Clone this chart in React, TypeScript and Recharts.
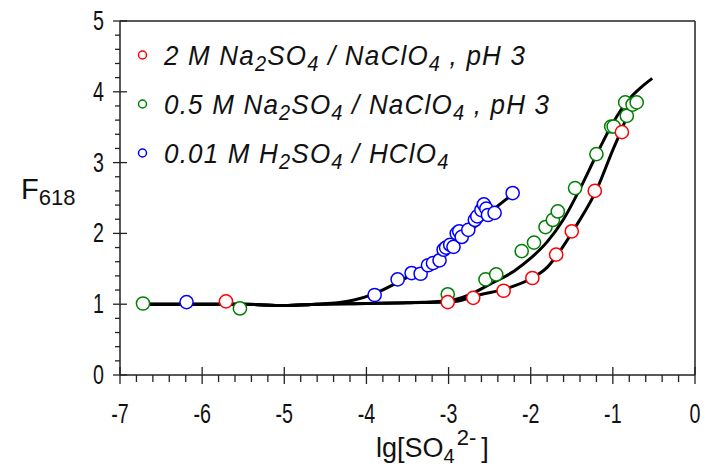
import React from "react";
import {
  ComposedChart,
  Line,
  Scatter,
  XAxis,
  YAxis,
  ReferenceLine,
} from "recharts";

const xMajorTicks = [-7, -6, -5, -4, -3, -2, -1, 0];
const yMajorTicks = [0, 1, 2, 3, 4, 5];

// minor ticks every 0.2
const minorOf = (majors: number[]) => {
  const out: number[] = [];
  majors.forEach((m, i) => {
    out.push(m);
    if (i < majors.length - 1) {
      for (let k = 1; k < 5; k++) out.push(Math.round((m + k * 0.2) * 10) / 10);
    }
  });
  return out;
};
const xTicks = minorOf(xMajorTicks);
const yTicks = minorOf(yMajorTicks);

// 2 M Na2SO4 / NaClO4, pH 3
const redPoints = [
  { x: -5.71, y: 1.04 },
  { x: -3.01, y: 1.03 },
  { x: -2.7, y: 1.09 },
  { x: -2.33, y: 1.19 },
  { x: -1.98, y: 1.37 },
  { x: -1.69, y: 1.7 },
  { x: -1.5, y: 2.03 },
  { x: -1.22, y: 2.6 },
  { x: -0.89, y: 3.43 },
];

// 0.5 M Na2SO4 / NaClO4, pH 3
const greenPoints = [
  { x: -6.72, y: 1.01 },
  { x: -5.54, y: 0.94 },
  { x: -3.01, y: 1.14 },
  { x: -2.55, y: 1.35 },
  { x: -2.42, y: 1.42 },
  { x: -2.11, y: 1.75 },
  { x: -1.96, y: 1.87 },
  { x: -1.82, y: 2.09 },
  { x: -1.73, y: 2.19 },
  { x: -1.67, y: 2.31 },
  { x: -1.46, y: 2.64 },
  { x: -1.2, y: 3.12 },
  { x: -1.02, y: 3.51 },
  { x: -0.99, y: 3.51 },
  { x: -0.85, y: 3.85 },
  { x: -0.83, y: 3.66 },
  { x: -0.76, y: 3.82 },
  { x: -0.71, y: 3.85 },
];

// 0.01 M H2SO4 / HClO4
const bluePoints = [
  { x: -6.19, y: 1.03 },
  { x: -3.9, y: 1.13 },
  { x: -3.62, y: 1.35 },
  { x: -3.45, y: 1.44 },
  { x: -3.34, y: 1.43 },
  { x: -3.25, y: 1.55 },
  { x: -3.19, y: 1.58 },
  { x: -3.11, y: 1.62 },
  { x: -3.06, y: 1.77 },
  { x: -3.03, y: 1.8 },
  { x: -2.98, y: 1.84 },
  { x: -2.94, y: 1.81 },
  { x: -2.9, y: 2.0 },
  { x: -2.87, y: 2.03 },
  { x: -2.84, y: 1.95 },
  { x: -2.76, y: 2.05 },
  { x: -2.68, y: 2.19 },
  { x: -2.65, y: 2.24 },
  { x: -2.6, y: 2.33 },
  { x: -2.57, y: 2.41 },
  { x: -2.54, y: 2.35 },
  { x: -2.52, y: 2.26 },
  { x: -2.44, y: 2.29 },
  { x: -2.22, y: 2.57 },
];

// fitted curves
const blueFit = [
  { x: -6.72, y: 1.0 },
  { x: -5.5, y: 1.0 },
  { x: -5.0, y: 0.98 },
  { x: -4.6, y: 1.0 },
  { x: -4.35, y: 1.02 },
  { x: -4.15, y: 1.06 },
  { x: -3.9, y: 1.15 },
  { x: -3.6, y: 1.32 },
  { x: -3.3, y: 1.52 },
  { x: -3.0, y: 1.77 },
  { x: -2.7, y: 2.07 },
  { x: -2.5, y: 2.29 },
  { x: -2.22, y: 2.55 },
];

const greenFit = [
  { x: -6.72, y: 1.0 },
  { x: -5.5, y: 1.0 },
  { x: -5.0, y: 0.98 },
  { x: -4.6, y: 1.0 },
  { x: -4.0, y: 1.01 },
  { x: -3.5, y: 1.02 },
  { x: -3.0, y: 1.05 },
  { x: -2.75, y: 1.13 },
  { x: -2.5, y: 1.28 },
  { x: -2.2, y: 1.47 },
  { x: -2.0, y: 1.65 },
  { x: -1.8, y: 1.88 },
  { x: -1.6, y: 2.2 },
  { x: -1.37, y: 2.7 },
  { x: -1.17, y: 3.18 },
  { x: -1.0, y: 3.56 },
  { x: -0.8, y: 3.9 },
  { x: -0.65, y: 4.07 },
  { x: -0.52, y: 4.19 },
];

const redFit = [
  { x: -6.72, y: 1.0 },
  { x: -5.5, y: 1.0 },
  { x: -5.0, y: 0.98 },
  { x: -4.6, y: 1.0 },
  { x: -4.0, y: 1.01 },
  { x: -3.5, y: 1.02 },
  { x: -3.0, y: 1.03 },
  { x: -2.85, y: 1.05 },
  { x: -2.7, y: 1.11 },
  { x: -2.3, y: 1.22 },
  { x: -2.0, y: 1.36 },
  { x: -1.8, y: 1.52 },
  { x: -1.65, y: 1.74 },
  { x: -1.45, y: 2.1 },
  { x: -1.2, y: 2.61 },
  { x: -1.0, y: 3.18 },
  { x: -0.86, y: 3.56 },
  { x: -0.76, y: 3.88 },
];

const FONT = "'Liberation Sans', Arial, sans-serif";

const legendItems = [
  { color: "#ff0000", parts: ["2 M Na", "_2", "SO", "_4", " / NaClO", "_4", " , pH 3"] },
  { color: "#008000", parts: ["0.5 M Na", "_2", "SO", "_4", " / NaClO", "_4", " , pH 3"] },
  { color: "#0000ff", parts: ["0.01 M H", "_2", "SO", "_4", " / HClO", "_4"] },
];

const isMajor = (v: number) => Math.abs(v - Math.round(v)) < 1e-6;

const XTick = (props: any) => {
  const { x, y, payload } = props;
  const major = isMajor(payload.value);
  return (
    <g>
      <line x1={x} x2={x} y1={major ? y - 8 : y} y2={major ? y + 9 : y + 7} stroke="#222" strokeWidth={1.3} />
      {major && (
        <text
          transform={`translate(${x},${y + 48}) scale(0.82,1.12)`}
          textAnchor="middle"
          fontSize={24}
          fontFamily={FONT}
          fill="#111"
        >
          {payload.value}
        </text>
      )}
    </g>
  );
};

const YTick = (props: any) => {
  const { x, y, payload } = props;
  const major = isMajor(payload.value);
  return (
    <g>
      <line x1={major ? x - 7 : x - 5} x2={major ? x + 7 : x} y1={y} y2={y} stroke="#222" strokeWidth={1.3} />
      {major && (
        <text
          transform={`translate(${x - 16},${y + 9}) scale(0.82,1.12)`}
          textAnchor="end"
          fontSize={24}
          fontFamily={FONT}
          fill="#111"
        >
          {payload.value}
        </text>
      )}
    </g>
  );
};

const marker = (color: string) => (props: any) => (
  <circle cx={props.cx} cy={props.cy} r={6.6} fill="#fff" stroke={color} strokeWidth={1.5} />
);

export default function App() {
  return (
    <div style={{ position: "absolute", left: 0, top: 0, width: 707, height: 470, background: "#fff" }}>
      <ComposedChart
        width={707}
        height={470}
        margin={{ top: 21, right: 12, left: 0, bottom: 0 }}
      >
        <XAxis
          dataKey="x"
          type="number"
          domain={[-7, 0]}
          ticks={xTicks}
          interval={0}
          tick={<XTick />}
          tickLine={false}
          tickSize={0}
          tickMargin={0}
          height={95}
          axisLine={{ stroke: "#222", strokeWidth: 1.5 }}
          allowDataOverflow
        />
        <YAxis
          dataKey="y"
          type="number"
          domain={[0, 5]}
          ticks={yTicks}
          interval={0}
          tick={<YTick />}
          tickLine={false}
          tickSize={0}
          tickMargin={0}
          width={120}
          axisLine={{ stroke: "#222", strokeWidth: 1.5 }}
          allowDataOverflow
        />
        <ReferenceLine y={5} stroke="#222" strokeWidth={1.5} />
        <ReferenceLine x={0} stroke="#222" strokeWidth={1.5} />
        <Line data={blueFit} dataKey="y" type="monotone" stroke="#000" strokeWidth={3} dot={false} isAnimationActive={false} />
        <Line data={greenFit} dataKey="y" type="monotone" stroke="#000" strokeWidth={3} dot={false} isAnimationActive={false} />
        <Line data={redFit} dataKey="y" type="monotone" stroke="#000" strokeWidth={3} dot={false} isAnimationActive={false} />
        <Scatter data={greenPoints} dataKey="y" shape={marker("#008000")} isAnimationActive={false} />
        <Scatter data={redPoints} dataKey="y" shape={marker("#ff0000")} isAnimationActive={false} />
        <Scatter data={bluePoints} dataKey="y" shape={marker("#0000ff")} isAnimationActive={false} />
      </ComposedChart>

      <svg
        width={707}
        height={470}
        style={{ position: "absolute", left: 0, top: 0, pointerEvents: "none" }}
        fontFamily={FONT}
      >
        {legendItems.map((item, i) => {
          const base = 65 + i * 49;
          return (
            <g key={i}>
              <circle cx={142.5} cy={base - 10} r={4} fill="#fff" stroke={item.color} strokeWidth={1.5} />
              <text
                transform={`translate(164,${base}) scale(1,1.08)`}
                fontSize={26}
                fontStyle="italic"
                letterSpacing={1.2}
                fill="#111"
              >
                {item.parts.map((p, j) =>
                  p.startsWith("_") ? (
                    <tspan key={j} fontSize={20} dy={6}>
                      {p.slice(1)}
                    </tspan>
                  ) : (
                    <tspan key={j} dy={j > 0 ? -6 : 0}>
                      {p}
                    </tspan>
                  )
                )}
              </text>
            </g>
          );
        })}

        <text x={21} y={199} fontSize={29} fill="#111">
          F<tspan fontSize={22} dy={6}>618</tspan>
        </text>

        <text x={376} y={457} fontSize={27} fill="#111">
          lg[SO<tspan fontSize={20} dy={6}>4</tspan>
          <tspan fontSize={22} dx={2} dy={-18}>2-</tspan>
          <tspan dx={5} dy={12}>]</tspan>
        </text>
      </svg>
    </div>
  );
}
